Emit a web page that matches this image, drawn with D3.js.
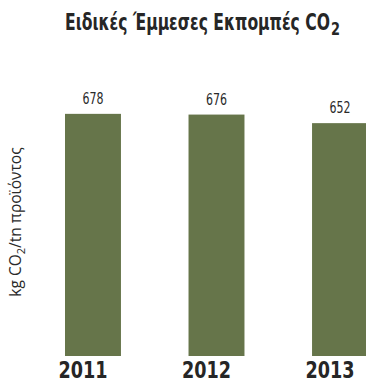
<!DOCTYPE html>
<html><head><meta charset="utf-8">
<script src="https://cdn.jsdelivr.net/npm/d3@7"></script>
<style>body{margin:0;background:#fff;} svg{display:block;}</style>
</head><body>
<script>
const categories = ["2011", "2012", "2013"];
const values = [678, 676, 652];

const W = 366, H = 383;
const svg = d3.select("body").append("svg").attr("width", W).attr("height", H);
const narrow = "'DejaVu Sans Condensed', 'DejaVu Sans', sans-serif";

const x = d3.scaleBand().domain(categories).range([65, 368]).paddingInner(0.547).paddingOuter(0);
const y = d3.scaleLinear().domain([0, 700]).range([356, 106]);

svg.append("g").selectAll("rect").data(values).join("rect")
  .attr("x", (d, i) => x(categories[i]))
  .attr("width", x.bandwidth())
  .attr("y", d => y(d))
  .attr("height", d => y(0) - y(d))
  .attr("fill", "#66754a");

svg.append("g").selectAll("text").data(values).join("text")
  .attr("x", (d, i) => x(categories[i]) + x.bandwidth() / 2)
  .attr("y", d => y(d) - 10)
  .attr("text-anchor", "middle")
  .attr("font-family", narrow)
  .attr("font-size", 15)
  .attr("textLength", 21)
  .attr("lengthAdjust", "spacingAndGlyphs")
  .attr("fill", "#2a2a2a")
  .text(d => d);

const xAxis = d3.axisBottom(x).tickSize(0).tickPadding(0);
const gx = svg.append("g").attr("transform", "translate(-10,378)").call(xAxis);
gx.select(".domain").remove();
gx.selectAll("text")
  .attr("dy", 0)
  .attr("font-family", narrow)
  .attr("font-weight", "bold")
  .attr("font-size", 23)
  .attr("textLength", 49)
  .attr("lengthAdjust", "spacingAndGlyphs")
  .attr("fill", "#262626");

const title = svg.append("text")
  .attr("x", 65).attr("y", 30)
  .attr("font-family", narrow)
  .attr("font-weight", "bold")
  .attr("font-size", 23)
  .attr("fill", "#262626");
title.append("tspan").attr("textLength", 265).attr("lengthAdjust", "spacingAndGlyphs").text("Ειδικές Έμμεσες Εκπομπές CO");
title.append("tspan").attr("font-size", 18).attr("dy", 5).attr("x", 331)
  .attr("textLength", 9).attr("lengthAdjust", "spacingAndGlyphs").text("2");

const yl = svg.append("text")
  .attr("transform", "translate(21,222) rotate(-90)")
  .attr("text-anchor", "middle")
  .attr("font-family", "'Open Sans', sans-serif")
  .attr("font-size", 15.5)
  .attr("fill", "#2a2a2a");
yl.append("tspan").text("kg CO");
yl.append("tspan").attr("font-size", 11).attr("dy", 4).text("2");
yl.append("tspan").attr("dy", -4).text("/tn προϊόντος");
</script>
</body></html>
